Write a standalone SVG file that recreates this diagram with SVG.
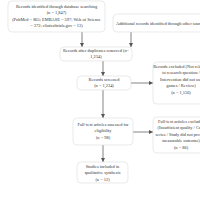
<svg xmlns="http://www.w3.org/2000/svg" width="200" height="200" viewBox="0 0 200 200">
<defs>
<marker id="ah" viewBox="0 0 6 6" refX="6" refY="3" markerWidth="4" markerHeight="4" orient="auto" markerUnits="userSpaceOnUse"><path d="M0,0 L6,3 L0,6 z" fill="#555"/></marker>
<style>
.box{fill:#fff;stroke:#dcdcdc;stroke-width:0.6}
.t{font-family:"Liberation Serif","Times New Roman",serif;font-size:4.4px;fill:#333;text-anchor:middle}
.c{stroke:#666;stroke-width:0.8;fill:none;marker-end:url(#ah)}
</style>
</defs>
<rect width="200" height="200" fill="#fff"/>
<g id="connectors">
<path class="c" d="M82,32 V47"/>
<path class="c" d="M131,32 V47"/>
<path class="c" d="M103,61 V76"/>
<path class="c" d="M131,83 H153"/>
<path class="c" d="M103,90 V118"/>
<path class="c" d="M133,132 H153"/>
<path class="c" d="M103,145 V162"/>
</g>
<g id="n1">
<rect class="box" x="8" y="1" width="97" height="31" rx="4"/>
<text class="t" x="56.5" y="7.5">Records identified through database searching</text>
<text class="t" x="56.5" y="14">(n = 1,847)</text>
<text class="t" x="56.5" y="20.5">(PubMed = 865; EMBASE = 597; Web of Science</text>
<text class="t" x="56.5" y="27">= 372; clinicaltrials.gov = 13)</text>
</g>
<g id="n2">
<rect class="box" x="113" y="14" width="110" height="18" rx="4"/>
<text class="t" x="116" y="25" style="text-anchor:start">Additional records identified through other sources</text>
</g>
<g id="n3">
<rect class="box" x="60" y="47" width="72" height="14" rx="4"/>
<text class="t" x="96" y="52">Records after duplicates removed (n=</text>
<text class="t" x="96" y="58">1,234)</text>
</g>
<g id="n4">
<rect class="box" x="77" y="76" width="54" height="14" rx="4"/>
<text class="t" x="104" y="81">Records screened</text>
<text class="t" x="104" y="87">(n = 1,234)</text>
</g>
<g id="n5">
<rect class="box" x="153" y="62" width="56" height="42" rx="4"/>
<text class="t" x="181" y="68">Records excluded (Not relevant</text>
<text class="t" x="181" y="74">to research question /</text>
<text class="t" x="181" y="80.5">Intervention did not use</text>
<text class="t" x="181" y="87">games / Review)</text>
<text class="t" x="181" y="93.5">(n = 1,156)</text>
</g>
<g id="n6">
<rect class="box" x="73" y="118" width="60" height="27" rx="4"/>
<text class="t" x="103" y="125.5">Full-text articles assessed for</text>
<text class="t" x="103" y="132">eligibility</text>
<text class="t" x="103" y="138.5">(n = 98)</text>
</g>
<g id="n7">
<rect class="box" x="153" y="117" width="56" height="36" rx="4"/>
<text class="t" x="181" y="122.5">Full-text articles excluded</text>
<text class="t" x="181" y="129">(Insufficient quality / Case</text>
<text class="t" x="181" y="135.5">series / Study did not present</text>
<text class="t" x="181" y="142">measurable outcome)</text>
<text class="t" x="181" y="148.5">(n = 86)</text>
</g>
<g id="n8">
<rect class="box" x="77" y="162" width="51" height="21" rx="4"/>
<text class="t" x="102.5" y="167.5">Studies included in</text>
<text class="t" x="102.5" y="174">qualitative synthesis</text>
<text class="t" x="102.5" y="180.5">(n = 12)</text>
</g>
</svg>
